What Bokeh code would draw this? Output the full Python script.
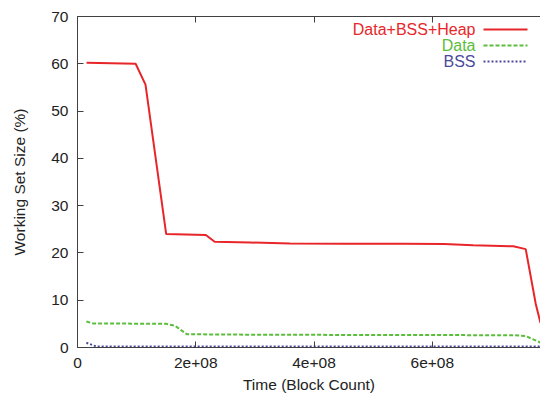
from bokeh.plotting import figure
from bokeh.models import Range1d, FixedTicker, LinearAxis, Label, Arrow
from bokeh.embed import file_html
from bokeh.resources import INLINE

# ---- data ----
t_heap = [1.53e7, 9.83e7, 1.15e8, 1.50e8, 2.17e8, 2.32e8, 2.92e8, 3.59e8,
          4.5e8, 5.5e8, 6.2e8, 6.69e8, 7.37e8, 7.58e8, 7.75e8, 7.83e8]
v_heap = [60.2, 60.0, 55.6, 24.0, 23.8, 22.35, 22.2, 22.0,
          21.95, 21.95, 21.9, 21.6, 21.4, 20.8, 9.2, 5.2]

t_data = [1.5e7, 2.6e7, 1.5e8, 1.65e8, 1.85e8, 3.0e8, 5.0e8, 7.4e8, 7.58e8, 7.83e8]
v_data = [5.5, 5.1, 5.0, 4.6, 2.8, 2.7, 2.65, 2.6, 2.4, 1.05]

t_bss = [1.5e7, 3.2e7, 7.83e8]
v_bss = [1.0, 0.2, 0.2]

series_names = ["Data+BSS+Heap", "Data", "BSS"]
series_colors = ["#e8262a", "#5bbd3c", "#4a4a9c"]
series_dash = ["solid", "4 2", "2 2"]

x_ticks = [0, 2e8, 4e8, 6e8]
x_tick_labels = ["0", "2e+08", "4e+08", "6e+08"]
y_ticks = [0, 10, 20, 30, 40, 50, 60, 70]

X_END = 7.83e8
Y_END = 70

FONT = "Liberation Sans"
FS = "15.5px"
AXC = "#404040"

W, H = 540, 401
BL, BR, BT, BB = 77, 0, 16, 54

p = figure(width=W, height=H, output_backend="svg", toolbar_location=None,
           x_range=Range1d(0, X_END), y_range=Range1d(0, Y_END),
           min_border_left=BL, min_border_right=BR, min_border_top=BT, min_border_bottom=BB)
p.outline_line_color = None
p.xgrid.visible = False
p.ygrid.visible = False
p.background_fill_color = "white"
p.border_fill_color = "white"

for ax in (p.xaxis[0], p.yaxis[0]):
    ax.axis_line_color = AXC
    ax.major_tick_line_color = AXC
    ax.minor_tick_line_color = None
    ax.major_tick_in = 6
    ax.major_tick_out = 0
    ax.major_label_text_font = FONT
    ax.major_label_text_font_size = FS
    ax.major_label_text_color = "#222222"
    ax.axis_label_text_font = FONT
    ax.axis_label_text_font_size = FS
    ax.axis_label_text_font_style = "normal"
    ax.axis_label_text_color = "#222222"

p.xaxis[0].ticker = FixedTicker(ticks=x_ticks)
p.xaxis[0].major_label_overrides = {t: l for t, l in zip(x_ticks, x_tick_labels)}
p.xaxis[0].axis_label = "Time (Block Count)"
p.xaxis[0].major_label_standoff = 10
p.xaxis[0].axis_label_standoff = 5

p.yaxis[0].ticker = FixedTicker(ticks=y_ticks)
p.yaxis[0].axis_label = "Working Set Size (%)"
p.yaxis[0].major_label_standoff = 9
p.yaxis[0].axis_label_standoff = 20

top = LinearAxis(ticker=FixedTicker(ticks=x_ticks))
top.axis_line_color = AXC
top.major_tick_line_color = AXC
top.minor_tick_line_color = None
top.major_tick_in = 6
top.major_tick_out = 0
top.major_label_overrides = {t: "" for t in x_ticks}
top.major_label_standoff = 0
p.add_layout(top, "above")

ts = [t_heap, t_data, t_bss]
vs = [v_heap, v_data, v_bss]
for t, v, c, d in zip(ts, vs, series_colors, series_dash):
    p.line(t, v, line_color=c, line_width=2, line_dash=d)

# ---- gnuplot-style key (text right-aligned, sample on the right) ----
frame_w = float(W - BL - BR)
frame_h = float(H - BT - BB)
xpx = X_END / frame_w
ypx = Y_END / frame_h
for i, (name, c, d) in enumerate(zip(series_names, series_colors, series_dash)):
    yy = Y_END - (13 + 16 * i) * ypx
    p.add_layout(Label(x=X_END - 65 * xpx, y=yy, text=name, text_align="right",
                       text_baseline="middle", text_font=FONT, text_font_size="16px",
                       text_color=c))
    p.add_layout(Arrow(end=None, x_start=X_END - 57 * xpx, y_start=yy,
                       x_end=X_END - 13 * xpx, y_end=yy, line_color=c,
                       line_width=2, line_dash=d))

open("out.html", "w").write(file_html(p, INLINE))
